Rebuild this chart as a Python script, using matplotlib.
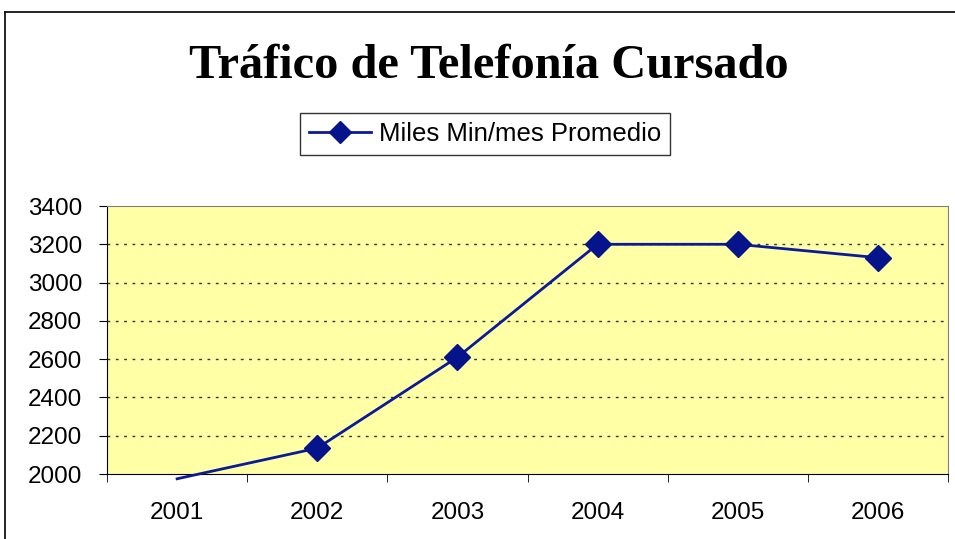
import matplotlib
matplotlib.use('Agg')
import matplotlib.pyplot as plt
from matplotlib.lines import Line2D

# datos del grafico
anios = ['2001', '2002', '2003', '2004', '2005', '2006']
trafico = [1975, 2135, 2610, 3200, 3200, 3130]
serie = 'Miles Min/mes Promedio'
y_ticks = [2000, 2200, 2400, 2600, 2800, 3000, 3200, 3400]

fig = plt.figure(figsize=(9.55, 5.39), dpi=100)
W, H = 955, 539

# marco exterior del grafico
fig.add_artist(Line2D([5 / W, 5 / W], [0, 1 - 12 / H], color='black', lw=1.2))
fig.add_artist(Line2D([5 / W, 1], [1 - 12 / H, 1 - 12 / H], color='black', lw=1.2))

ax = fig.add_axes([107 / W, 1 - 474 / H, (948 - 107) / W, (474 - 206) / H])
ax.set_facecolor('#FFFFA6')

x = list(range(len(anios)))
ax.plot(x, trafico, color='#0A1A99', lw=2, clip_on=False, zorder=3)
# el punto de 2001 queda fuera de escala: sin marcador
ax.plot(x[1:], trafico[1:], ls='none', marker='D', ms=13, color='#06148C',
        clip_on=False, zorder=4)

ax.set_xlim(-0.5, len(anios) - 0.5)
ax.set_ylim(2000, 3400)
ax.set_yticks(y_ticks)
ax.set_yticklabels([str(v) for v in y_ticks], fontsize=17.5, family='Liberation Sans')
ax.set_xticks(x)
ax.set_xticklabels(anios, fontsize=17.5, family='Liberation Sans')
ax.set_xticks([i - 0.5 for i in range(len(anios) + 1)], minor=True)
ax.tick_params(axis='x', which='major', length=0, pad=20)
ax.tick_params(axis='x', which='minor', length=6, direction='out', color='black')
ax.tick_params(axis='y', length=6, direction='out', color='black', pad=12)

for v in y_ticks[1:-1]:
    ax.axhline(v, color='#333333', lw=1, ls=(0, (2, 4)), zorder=1)

ax.spines['left'].set_color('black')
ax.spines['bottom'].set_color('black')
ax.spines['top'].set_color('#808080')
ax.spines['right'].set_color('#808080')

fig.text(489 / W, 1 - 66 / H, 'Tráfico de Telefonía Cursado', ha='center', va='center',
         fontsize=34.8, fontweight='bold', family='Liberation Serif')

leg = fig.legend(handles=[Line2D([], [], color='#0A1A99', lw=2, marker='D', ms=11,
                                 markerfacecolor='#06148C', markeredgecolor='#06148C')],
                 labels=[serie], loc='center', bbox_to_anchor=(485 / W, 1 - 134 / H),
                 prop={'family': 'Liberation Sans', 'size': 18.5}, frameon=True,
                 fancybox=False, edgecolor='black', handlelength=2.4, handletextpad=0.3,
                 borderpad=0.35, borderaxespad=0)
leg.get_frame().set_linewidth(1)

fig.savefig('out.png', dpi=100)
